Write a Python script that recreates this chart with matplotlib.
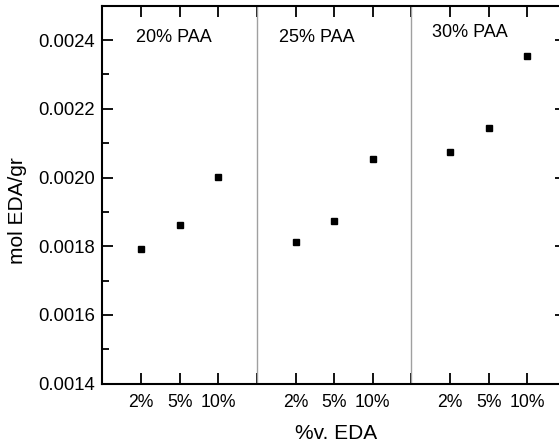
import matplotlib
matplotlib.use("Agg")
import matplotlib.pyplot as plt
from matplotlib.ticker import MultipleLocator

plt.rcParams['font.family'] = ['Liberation Sans', 'DejaVu Sans']

groups = ["20% PAA", "25% PAA", "30% PAA"]
eda_labels = ["2%", "5%", "10%"]
values_20 = [0.001792, 0.001862, 0.002001]
values_25 = [0.001812, 0.001873, 0.002054]
values_30 = [0.002075, 0.002144, 0.002353]
all_values = [values_20, values_25, values_30]

W, H = 559, 444
fig = plt.figure(figsize=(W / 100, H / 100), dpi=100)
ax = fig.add_axes([102.3 / W, (H - 383.7) / H, (566 - 102.3) / W, (383.7 - 5.7) / H])

label_pos = [(0.87, 0.002395), (4.57, 0.002393), (8.54, 0.002408)]
for gi, (g, vals) in enumerate(zip(groups, all_values)):
    xs = [gi * 4 + 1 + i for i in range(len(vals))]
    ax.plot(xs, vals, 's', color='black', markersize=4.2, linestyle='none')
    lx, ly = label_pos[gi]
    ax.text(lx, ly, g, fontsize=13, ha='left', va='baseline')
    if gi > 0:
        ax.axvline(gi * 4, color='#a0a0a0', linewidth=1.0)

ax.set_xlim(0, 12)
ax.set_ylim(0.0014, 0.0025)
ax.set_xticks([1, 2, 3, 4, 5, 6, 7, 8, 9, 10, 11])
ax.set_xticklabels(eda_labels + [""] + eda_labels + [""] + eda_labels)
ax.set_yticks([0.0014, 0.0016, 0.0018, 0.0020, 0.0022, 0.0024])
ax.set_yticklabels(["0.0014", "0.0016", "0.0018", "0.0020", "0.0022", "0.0024"])
ax.yaxis.set_minor_locator(MultipleLocator(0.0001))

ax.tick_params(axis='both', which='major', direction='in', length=8, width=1.3,
               top=True, right=True)
ax.tick_params(axis='y', which='minor', direction='in', length=5, width=1.3, right=True)
ax.tick_params(axis='x', which='major', pad=7.5, labelsize=12.7)
ax.tick_params(axis='y', which='major', pad=5.5, labelsize=13.3)
for s in ax.spines.values():
    s.set_linewidth(1.5)

fig.text(336 / W, 1 - 433 / H, "%v. EDA", fontsize=15, ha='center', va='center')
fig.text(18 / W, 1 - 211 / H, "mol EDA/gr", fontsize=15, ha='center', va='center', rotation=90)

fig.savefig("out.png", dpi=100)
